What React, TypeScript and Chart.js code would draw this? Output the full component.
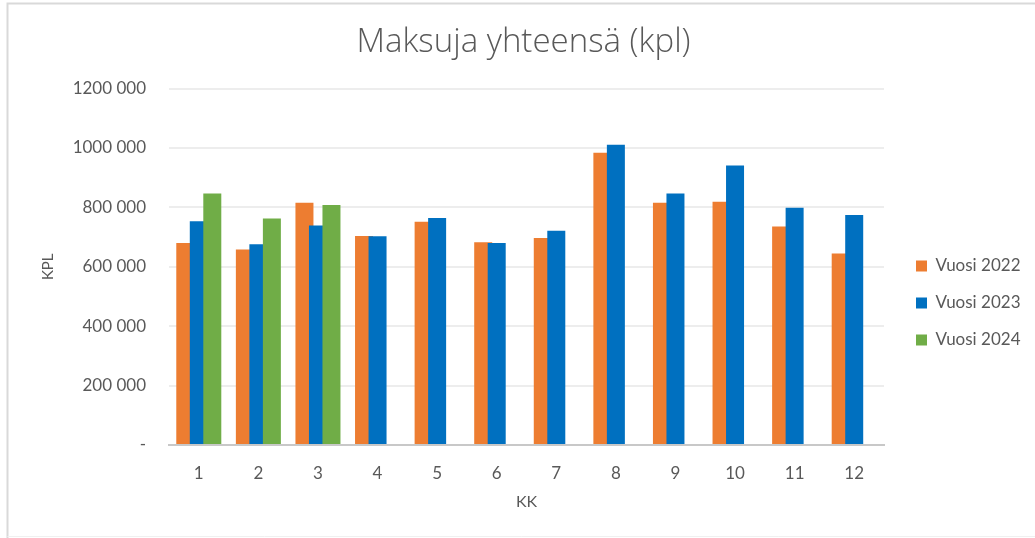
import React, { useEffect, useRef } from "react";
import { Chart, registerables } from "chart.js";

Chart.register(...registerables);

const months = ["1", "2", "3", "4", "5", "6", "7", "8", "9", "10", "11", "12"];
const seriesNames = ["Vuosi 2022", "Vuosi 2023", "Vuosi 2024"];
const values2022 = [680000, 658000, 816000, 704000, 752000, 683000, 697000, 984000, 816000, 819000, 736000, 645000];
const values2023 = [753000, 676000, 739000, 703000, 764000, 680000, 721000, 1011000, 847000, 941000, 799000, 774000];
const values2024 = [847000, 763000, 808000, null, null, null, null, null, null, null, null, null];
const yTickLabels = ["-", "200 000", "400 000", "600 000", "800 000", "1000 000", "1200 000"];
const seriesColors = ["#ED7D31", "#0070C0", "#70AD47"];

const FONT = 'Lato, "Open Sans", "Noto Sans", sans-serif';
const TITLE_FONT = '"Open Sans", Lato, sans-serif';
const TEXT = "#595959";

const W = 1035;
const H = 538;

// draw datasets in index order so later series overlap earlier ones (Excel style)
const drawOrderPlugin = {
  id: "drawOrder",
  beforeDatasetsDraw(chart: any) {
    const metas = chart.getSortedVisibleDatasetMetas().slice().sort((a: any, b: any) => a.index - b.index);
    for (const meta of metas) {
      if (typeof chart._drawDataset === "function") chart._drawDataset(meta);
      else meta.controller.draw();
    }
    return false;
  },
};

const framePlugin = {
  id: "frame",
  beforeDraw(chart: any) {
    const ctx = chart.ctx;
    ctx.save();
    ctx.fillStyle = "#FFFFFF";
    ctx.fillRect(0, 0, chart.width, chart.height);
    ctx.strokeStyle = "#D9D9D9";
    ctx.lineWidth = 2;
    ctx.beginPath();
    ctx.moveTo(7.5, chart.height);
    ctx.lineTo(7.5, 3.5);
    ctx.lineTo(chart.width, 3.5);
    ctx.stroke();
    ctx.strokeStyle = "#F0F0F0";
    ctx.lineWidth = 1;
    ctx.beginPath();
    ctx.moveTo(7.5, 536.5);
    ctx.lineTo(chart.width, 536.5);
    ctx.stroke();
    ctx.restore();
  },
};

export default function App() {
  const canvasRef = useRef<HTMLCanvasElement | null>(null);

  useEffect(() => {
    if (!canvasRef.current) return;
    const chart = new Chart(canvasRef.current, {
      type: "bar",
      data: {
        labels: months,
        datasets: [
          { label: seriesNames[0], data: values2022, backgroundColor: seriesColors[0] },
          { label: seriesNames[1], data: values2023, backgroundColor: seriesColors[1] },
          { label: seriesNames[2], data: values2024 as any, backgroundColor: seriesColors[2] },
        ],
      },
      options: {
        animation: false,
        responsive: false,
        devicePixelRatio: 1,
        layout: { padding: { left: 26, top: 10, bottom: 10, right: 14 } },
        datasets: {
          bar: { categoryPercentage: 0.68, barPercentage: 1.333, borderWidth: 0 },
        } as any,
        plugins: {
          title: {
            display: true,
            text: "Maksuja yhteensä (kpl)",
            color: TEXT,
            font: { family: TITLE_FONT, size: 33, weight: "300" as any, lineHeight: 1.2 },
            padding: { top: 13, bottom: 26 },
          },
          legend: {
            display: true,
            position: "right",
            maxWidth: 125,
            title: {
              display: true,
              text: "",
              font: { family: FONT, size: 10, lineHeight: 1.2 },
              padding: { top: 56, bottom: 0 },
            },
            labels: {
              boxWidth: 11,
              boxHeight: 11,
              padding: 20,
              color: TEXT,
              font: { family: FONT, size: 17 },
            },
          },
          tooltip: { enabled: false },
        },
        scales: {
          x: {
            grid: { display: false },
            border: { display: true, color: "#C8C8C8", width: 2 },
            ticks: { color: TEXT, font: { family: FONT, size: 17 }, padding: 10, maxRotation: 0 },
            title: {
              display: true,
              text: "KK",
              color: TEXT,
              font: { family: FONT, size: 16, lineHeight: 1.2 },
              padding: { top: 0, bottom: 17 },
            },
            afterFit(scale: any) {
              scale.height = 83;
            },
          },
          y: {
            min: 0,
            max: 1200000,
            ticks: {
              stepSize: 200000,
              color: TEXT,
              font: { family: FONT, size: 17 },
              padding: 23,
              callback: (_v: any, i: number) => yTickLabels[i],
            },
            grid: { color: "#EDEDED", lineWidth: 2, drawTicks: false },
            border: { display: false },
            title: {
              display: true,
              text: "KPL",
              color: TEXT,
              font: { family: FONT, size: 15, lineHeight: 1.2 },
              padding: { top: 13, bottom: 0 },
            },
            afterFit(scale: any) {
              scale.width = 143;
            },
          },
          spacer: {
            type: "linear",
            position: "right",
            display: true,
            grid: { display: false },
            border: { display: false },
            ticks: { display: false },
            afterFit(scale: any) {
              scale.width = 12;
            },
          },
        } as any,
      },
      plugins: [framePlugin, drawOrderPlugin],
    });
    return () => chart.destroy();
  }, []);

  return (
    <div style={{ position: "fixed", left: 0, top: 0, width: W, height: H, background: "#fff" }}>
      <canvas ref={canvasRef} width={W} height={H} style={{ display: "block", width: W, height: H }} />
    </div>
  );
}
